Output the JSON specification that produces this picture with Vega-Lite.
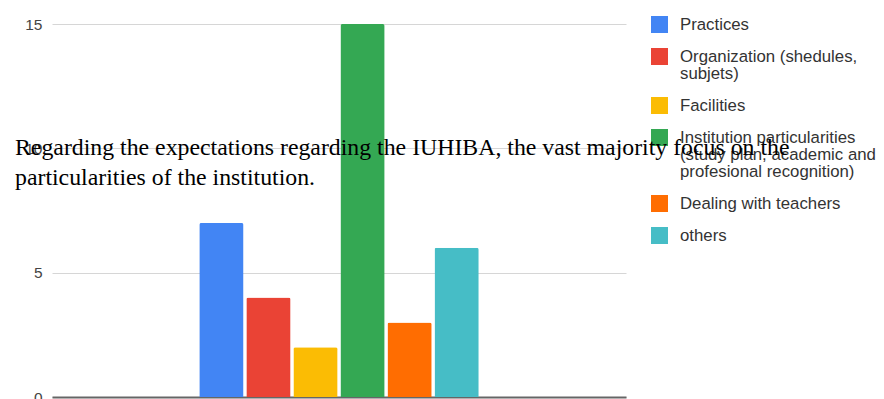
{
  "$schema": "https://vega.github.io/schema/vega-lite/v6.json",
  "width": 574,
  "height": 373,
  "autosize": "none",
  "padding": {"left": 52, "top": 24, "right": 258, "bottom": 2},
  "background": "white",
  "title": {
    "text": ["Regarding the expectations regarding the IUHIBA, the vast majority focus on the", "particularities of the institution."],
    "anchor": "start",
    "frame": "group",
    "font": "Liberation Serif",
    "fontSize": 23.8,
    "fontWeight": "normal",
    "color": "#000000",
    "lineHeight": 30,
    "baseline": "alphabetic",
    "dx": -37,
    "dy": 197
  },
  "data": {
    "values": [
      {"question": "Expectations", "series": "Practices", "value": 7},
      {"question": "Expectations", "series": "Organization (shedules,\nsubjets)", "value": 4},
      {"question": "Expectations", "series": "Facilities", "value": 2},
      {"question": "Expectations", "series": "Institution particularities\n(study plan, academic and\nprofesional recognition)", "value": 15},
      {"question": "Expectations", "series": "Dealing with teachers", "value": 3},
      {"question": "Expectations", "series": "others", "value": 6}
    ]
  },
  "mark": {"type": "bar", "cornerRadiusEnd": 2},
  "encoding": {
    "x": {
      "field": "question",
      "type": "nominal",
      "scale": {"paddingInner": 0, "paddingOuter": 0.527},
      "axis": {"labels": false, "ticks": false, "title": null, "domainColor": "#666666", "domainWidth": 2, "grid": false}
    },
    "xOffset": {
      "field": "series",
      "type": "nominal",
      "sort": null,
      "scale": {"paddingInner": 0.06, "paddingOuter": 0}
    },
    "y": {
      "field": "value",
      "type": "quantitative",
      "scale": {"domain": [0, 15], "nice": false},
      "axis": {
        "values": [0, 5, 10, 15],
        "title": null,
        "domain": false,
        "ticks": false,
        "labelPadding": 10,
        "labelFont": "Liberation Sans",
        "labelFontSize": 15.5,
        "labelColor": "#444444",
        "gridColor": "#d6d6d6",
        "gridWidth": 1
      }
    },
    "color": {
      "field": "series",
      "type": "nominal",
      "sort": null,
      "scale": {"range": ["#4285F4", "#EA4335", "#FBBC04", "#34A853", "#FF6D01", "#46BDC6"]},
      "legend": {
        "title": null,
        "orient": "none",
        "legendX": 599,
        "legendY": -8,
        "symbolType": "square",
        "symbolSize": 289,
        "symbolStrokeWidth": 0,
        "symbolOpacity": 1,
        "labelFont": "Liberation Sans",
        "labelFontSize": 16.8,
        "labelColor": "#333333",
        "labelLimit": 300,
        "labelOffset": 12,
        "rowPadding": 14,
        "labelExpr": "split(datum.label, '\\n')",
        "encode": {"labels": {"update": {"lineHeight": {"value": 17}}}}
      }
    }
  },
  "config": {"view": {"stroke": null}}
}
